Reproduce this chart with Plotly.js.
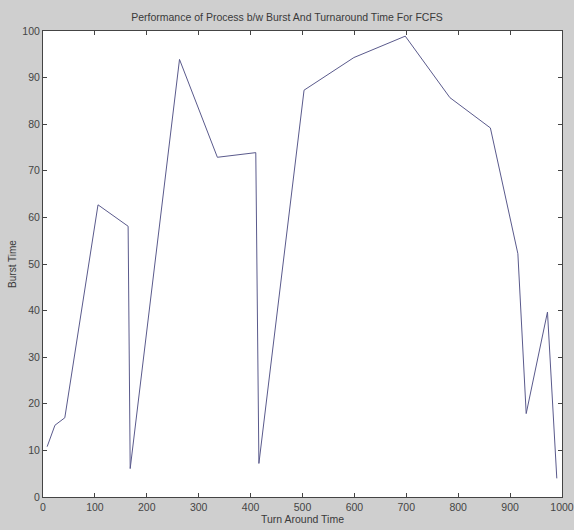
<!DOCTYPE html>
<html>
<head>
<meta charset="utf-8">
<script src="https://cdn.plot.ly/plotly-3.0.1.min.js"></script>
<style>
  html, body { margin: 0; padding: 0; background: #cfcfcf; }
  #chart { width: 574px; height: 530px; }
</style>
</head>
<body>
<div id="chart"></div>
<script>
// Turn around time (x) and burst time (y)
const turnAroundTime = [8, 23, 42, 106, 164, 168, 263, 336, 410, 416, 503, 599, 698, 784, 862, 915, 931, 972, 990];
const burstTime = [10.8, 15.4, 17, 62.7, 58.1, 6.1, 93.9, 72.9, 73.9, 7.2, 87.3, 94.3, 98.9, 85.7, 79.2, 52.2, 17.9, 39.7, 4.0];
const xTicks = [0, 100, 200, 300, 400, 500, 600, 700, 800, 900, 1000];
const yTicks = [0, 10, 20, 30, 40, 50, 60, 70, 80, 90, 100];

const fontFam = '"Liberation Sans Narrow", "Arial Narrow", "Liberation Sans", Arial, sans-serif';

const trace = {
  x: turnAroundTime,
  y: burstTime,
  type: 'scatter',
  mode: 'lines',
  line: { color: '#5a5a8c', width: 1 },
  hoverinfo: 'x+y'
};

const axisCommon = {
  showline: true,
  linecolor: '#444444',
  linewidth: 1,
  mirror: 'ticks',
  ticks: 'inside',
  ticklen: 4,
  tickcolor: '#444444',
  tickwidth: 1,
  showgrid: false,
  zeroline: false,
  ticklabeloverflow: 'allow',
  tickfont: { family: fontFam, size: 10.5, color: '#454545' }
};

const layout = {
  width: 574,
  height: 530,
  paper_bgcolor: '#cfcfcf',
  plot_bgcolor: '#ffffff',
  margin: { l: 43, r: 12, t: 31, b: 33 },
  showlegend: false,
  title: {
    text: 'Performance of Process b/w Burst And Turnaround Time For FCFS',
    font: { family: fontFam, size: 10.5, color: '#3a3a3a' },
    x: 0.5, xanchor: 'center',
    y: 1 - 17 / 530, yanchor: 'middle'
  },
  xaxis: Object.assign({}, axisCommon, {
    range: [0, 1000],
    tickvals: xTicks,
    ticktext: xTicks.map(String),
    title: { text: 'Turn Around Time', font: { family: fontFam, size: 10.5, color: '#3a3a3a' }, standoff: 2 }
  }),
  yaxis: Object.assign({}, axisCommon, {
    range: [0, 100],
    tickvals: yTicks,
    ticktext: yTicks.map(String),
    title: { text: 'Burst Time', font: { family: fontFam, size: 10, color: '#3a3a3a' }, standoff: 3 }
  })
};

Plotly.newPlot('chart', [trace], layout, { displayModeBar: false, staticPlot: true });
</script>
</body>
</html>
